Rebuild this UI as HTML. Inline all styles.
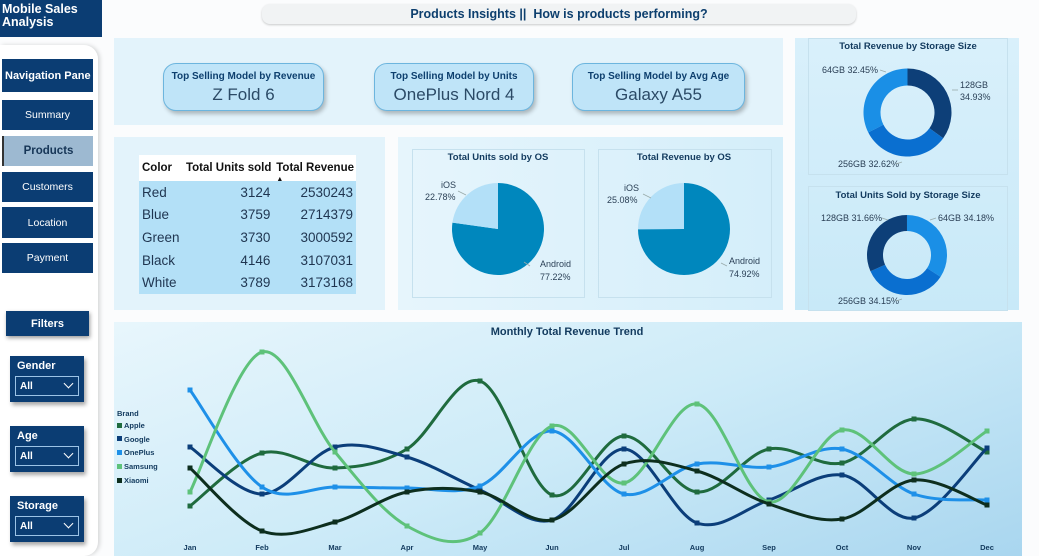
<!DOCTYPE html>
<html><head><meta charset="utf-8">
<style>
*{box-sizing:border-box;margin:0;padding:0}
body{width:1039px;height:556px;overflow:hidden;background:#fbfcfd;font-family:"Liberation Sans",sans-serif;position:relative}
.abs{position:absolute}
.nav{background:#0b3d73;color:#fff;font-weight:bold;font-size:11px;display:flex;align-items:center;justify-content:center;left:2px;width:91px}
.card{background:#bfe4f8;border:1px solid #6cb5de;border-radius:13px;box-shadow:2px 3px 4px rgba(0,0,0,.25);text-align:center;color:#0d3f6e}
.card .t{font-size:10px;font-weight:bold;margin-top:7px}
.card .v{font-size:17px;margin-top:3px;color:#2b4a66}
.panel{background:#e3f3fb}
.sl{background:#0b3d73;box-shadow:2px 3px 4px rgba(0,0,0,.35);left:10px;width:74px;height:46px;color:#fff}
.sl .h{font-size:11px;font-weight:bold;position:absolute;left:7px;top:4px}
.sl .b{position:absolute;left:5px;top:20px;width:64px;height:20px;border:1px solid #9cc3e6;font-size:10px;font-weight:bold;padding:4px 0 0 4px}
.sl .b:after{content:"";position:absolute;right:6px;top:3px;width:6px;height:6px;border-right:1.5px solid #fff;border-bottom:1.5px solid #fff;transform:rotate(45deg)}
table{border-collapse:collapse;font-size:13.5px;color:#1f3550}
td{height:22.6px;padding:0 3px;white-space:nowrap}
</style></head><body>
<div class="abs" style="left:0;top:0;width:102px;height:37px;background:#0b3d73;color:#fff;font-weight:bold;font-size:12.5px;line-height:13px;padding:3px 2px">Mobile Sales Analysis</div>
<div class="abs" style="left:262px;top:4px;width:594px;height:20px;background:#f1f3f4;border-radius:8px;box-shadow:0 1px 2px rgba(0,0,0,.2);text-align:center;font-size:12.5px;font-weight:bold;color:#0d3f6e;line-height:20px">Products Insights ||&nbsp; How is products performing?</div>
<div class="abs" style="left:0;top:45px;width:98px;height:511px;background:#fff;border-radius:0 14px 14px 0;box-shadow:2px 0 4px rgba(0,0,0,.15)"></div>
<div class="abs nav" style="top:59px;height:33px;justify-content:flex-start;padding-left:3px">Navigation Pane</div>
<div class="abs nav" style="top:100px;height:30px;font-weight:normal;font-size:10.5px">Summary</div>
<div class="abs nav" style="top:136px;height:30px;background:#9db9d1;color:#163556;font-size:11.5px;border-left:2px solid #333">Products</div>
<div class="abs nav" style="top:172px;height:30px;font-weight:normal;font-size:10.5px">Customers</div>
<div class="abs nav" style="top:207px;height:31px;font-weight:normal;font-size:10.5px">Location</div>
<div class="abs nav" style="top:243px;height:30px;font-weight:normal;font-size:10.5px">Payment</div>
<div class="abs nav" style="left:6px;top:311px;width:83px;height:25px;box-shadow:1px 2px 4px rgba(0,0,0,.4)">Filters</div>
<div class="abs sl" style="top:356px"><div class="h">Gender</div><div class="b">All</div></div>
<div class="abs sl" style="top:426px"><div class="h">Age</div><div class="b">All</div></div>
<div class="abs sl" style="top:496px"><div class="h">Storage</div><div class="b">All</div></div>

<div class="abs panel" style="left:114px;top:38px;width:669px;height:87px"></div>
<div class="abs card" style="left:163px;top:63px;width:161px;height:48px"><div class="t">Top Selling Model by Revenue</div><div class="v">Z Fold 6</div></div>
<div class="abs card" style="left:374px;top:63px;width:160px;height:48px"><div class="t">Top Selling Model by Units</div><div class="v">OnePlus Nord 4</div></div>
<div class="abs card" style="left:572px;top:63px;width:173px;height:48px"><div class="t">Top Selling Model by Avg Age</div><div class="v">Galaxy A55</div></div>

<div class="abs panel" style="left:114px;top:137px;width:271px;height:173px"></div>
<div class="abs" style="left:139px;top:155px;width:217px">
<table style="width:217px">
<tr style="background:#fff;font-weight:bold;font-size:11.5px;color:#111"><td style="height:26px;padding-left:3px">Color</td><td style="text-align:right;padding:0 2px">Total Units sold</td><td style="text-align:right;position:relative;padding:0 2px">Total Revenue<span style="position:absolute;left:3px;bottom:-2px;font-size:7px">▲</span></td></tr>
<tr style="background:#b3e0f7"><td>Red</td><td style="text-align:right">3124</td><td style="text-align:right">2530243</td></tr>
<tr style="background:#b3e0f7"><td>Blue</td><td style="text-align:right">3759</td><td style="text-align:right">2714379</td></tr>
<tr style="background:#b3e0f7"><td>Green</td><td style="text-align:right">3730</td><td style="text-align:right">3000592</td></tr>
<tr style="background:#b3e0f7"><td>Black</td><td style="text-align:right">4146</td><td style="text-align:right">3107031</td></tr>
<tr style="background:#b3e0f7"><td>White</td><td style="text-align:right">3789</td><td style="text-align:right">3173168</td></tr>
</table></div>

<div class="abs" style="left:398px;top:137px;width:385px;height:173px;background:linear-gradient(90deg,#e6f5fc,#d4eefa)"></div>
<div class="abs" style="left:795px;top:38px;width:224px;height:272px;background:linear-gradient(180deg,#d9f0fb,#c8e9f8)"></div>
<div class="abs" style="left:114px;top:322px;width:908px;height:234px;background:linear-gradient(160deg,#e8f6fc 0%,#cdebf8 50%,#a9d6ef 100%)"></div>

<svg class="abs" style="left:0;top:0" width="1039" height="556" font-family="Liberation Sans, sans-serif">
<g fill="none" stroke="#c6e1ee" stroke-width="1">
<rect x="412.5" y="149.5" width="172" height="148"/>
<rect x="598.5" y="149.5" width="173" height="148"/>
<rect x="808.5" y="38.5" width="199" height="136"/>
<rect x="808.5" y="186.5" width="199" height="124"/>
</g>
<g font-size="9.5" font-weight="bold" fill="#123a5e" text-anchor="middle">
<text x="498" y="160">Total Units sold by OS</text>
<text x="684" y="160">Total Revenue by OS</text>
<text x="908" y="49">Total Revenue by Storage Size</text>
<text x="908" y="198">Total Units Sold by Storage Size</text>
<text x="567" y="335" font-size="11">Monthly Total Revenue Trend</text>
</g>
<g id="pies"></g>
<g font-size="9" fill="#2a3f55">
<text x="441" y="188">iOS</text><text x="425" y="200">22.78%</text>
<text x="540" y="267">Android</text><text x="540" y="280">77.22%</text>
<text x="624" y="191">iOS</text><text x="607" y="203">25.08%</text>
<text x="729" y="264">Android</text><text x="729" y="277">74.92%</text>
<text x="822" y="73">64GB 32.45%</text>
<text x="960" y="88">128GB</text><text x="960" y="100">34.93%</text>
<text x="838" y="167">256GB 32.62%</text>
<text x="821" y="221">128GB 31.66%</text>
<text x="938" y="221">64GB 34.18%</text>
<text x="838" y="304">256GB 34.15%</text>
</g>
<g stroke="#9aa" fill="none" stroke-width="0.8">
<path d="M458 191 l8 4"/><path d="M530 266 l-6 -4"/><path d="M643 194 l8 4"/><path d="M727 266 l-6 -3"/>
<path d="M880 70 l6 2"/><path d="M958 90 l-6 0"/><path d="M896 164 l6 -2"/><path d="M882 218 l6 2"/><path d="M936 218 l-6 2"/><path d="M896 301 l6 -2"/>
</g>
<g font-size="7.5" font-weight="bold" fill="#123a5e">
<text x="117" y="416">Brand</text>
<rect x="117" y="423" width="5" height="5" fill="#1f6b3e"/><text x="124" y="428">Apple</text>
<rect x="117" y="436" width="5" height="5" fill="#0b3e7a"/><text x="124" y="442">Google</text>
<rect x="117" y="450" width="5" height="5" fill="#1e90e8"/><text x="124" y="455">OnePlus</text>
<rect x="117" y="464" width="5" height="5" fill="#5ec27a"/><text x="124" y="469">Samsung</text>
<rect x="117" y="478" width="5" height="5" fill="#0d2e1e"/><text x="124" y="483">Xiaomi</text>
</g>
<g id="months" font-size="7.5" font-weight="bold" fill="#123a5e" text-anchor="middle"></g>
<g id="lines"></g>
</svg>
<script>
var NS="http://www.w3.org/2000/svg";
function el(p,t,a){var e=document.createElementNS(NS,t);for(var k in a)e.setAttribute(k,a[k]);p.appendChild(e);return e;}
var pies=document.getElementById('pies');
function arc(cx,cy,r,ri,a0,a1,col){
 var f=function(a,rr){var t=(a-90)*Math.PI/180;return [cx+rr*Math.cos(t),cy+rr*Math.sin(t)];};
 var p0=f(a0,r),p1=f(a1,r),l=(a1-a0)>180?1:0,d;
 if(ri>0){var q1=f(a1,ri),q0=f(a0,ri);
 d="M"+p0+" A"+r+","+r+" 0 "+l+" 1 "+p1+" L"+q1+" A"+ri+","+ri+" 0 "+l+" 0 "+q0+"Z";}
 else d="M"+cx+","+cy+" L"+p0+" A"+r+","+r+" 0 "+l+" 1 "+p1+"Z";
 el(pies,'path',{d:d,fill:col});
}
arc(498,229,46,0,0,360*0.7722,'#0087bd');arc(498,229,46,0,360*0.7722,360,'#b3e0f8');
arc(684,229,46,0,0,360*0.7492,'#0087bd');arc(684,229,46,0,360*0.7492,360,'#b3e0f8');
var a=0;[[.3493,'#0d3f78'],[.3262,'#0a6fd0'],[.3245,'#1a8fe6']].forEach(function(s){arc(907.5,112.5,44,27,a,a+s[0]*360,s[1]);a+=s[0]*360;});
a=0;[[.3418,'#1a8fe6'],[.3415,'#0a6fd0'],[.3166,'#0d3f78']].forEach(function(s){arc(907,255,40,24,a,Math.min(360,a+s[0]*360),s[1]);a+=s[0]*360;});
var xs=[190,262,335,407,480,552,624,697,769,842,914,987];
var mn=['Jan','Feb','Mar','Apr','May','Jun','Jul','Aug','Sep','Oct','Nov','Dec'];
var mg=document.getElementById('months');
mn.forEach(function(m,i){var t=el(mg,'text',{x:xs[i],y:550});t.textContent=m;});
var S=[
['#1f6b3e',[506,453,468,449,381,495,436,492,449,463,419,452]],
['#0b3e7a',[447,494,447,457,490,520,449,523,500,475,518,448]],
['#1e90e8',[390,487,487,488,486,431,494,464,467,449,494,500]],
['#5ec27a',[492,352,452,526,533,426,483,404,502,430,474,431]],
['#0d2e1e',[468,531,522,492,492,520,464,471,504,519,480,505]]];
var lg=document.getElementById('lines');
S.forEach(function(s){
 var y=s[1],d="M"+xs[0]+","+y[0];
 for(var i=0;i<11;i++){
  var x0=xs[Math.max(i-1,0)],y0=y[Math.max(i-1,0)],x1=xs[i],y1=y[i],x2=xs[i+1],y2=y[i+1],x3=xs[Math.min(i+2,11)],y3=y[Math.min(i+2,11)];
  d+=" C"+(x1+(x2-x0)/6)+","+(y1+(y2-y0)/6)+" "+(x2-(x3-x1)/6)+","+(y2-(y3-y1)/6)+" "+x2+","+y2;
 }
 el(lg,'path',{d:d,fill:'none',stroke:s[0],'stroke-width':3});
 y.forEach(function(v,i){el(lg,'rect',{x:xs[i]-2.5,y:v-2.5,width:5,height:5,fill:s[0]});});
});
</script>
</body></html>
